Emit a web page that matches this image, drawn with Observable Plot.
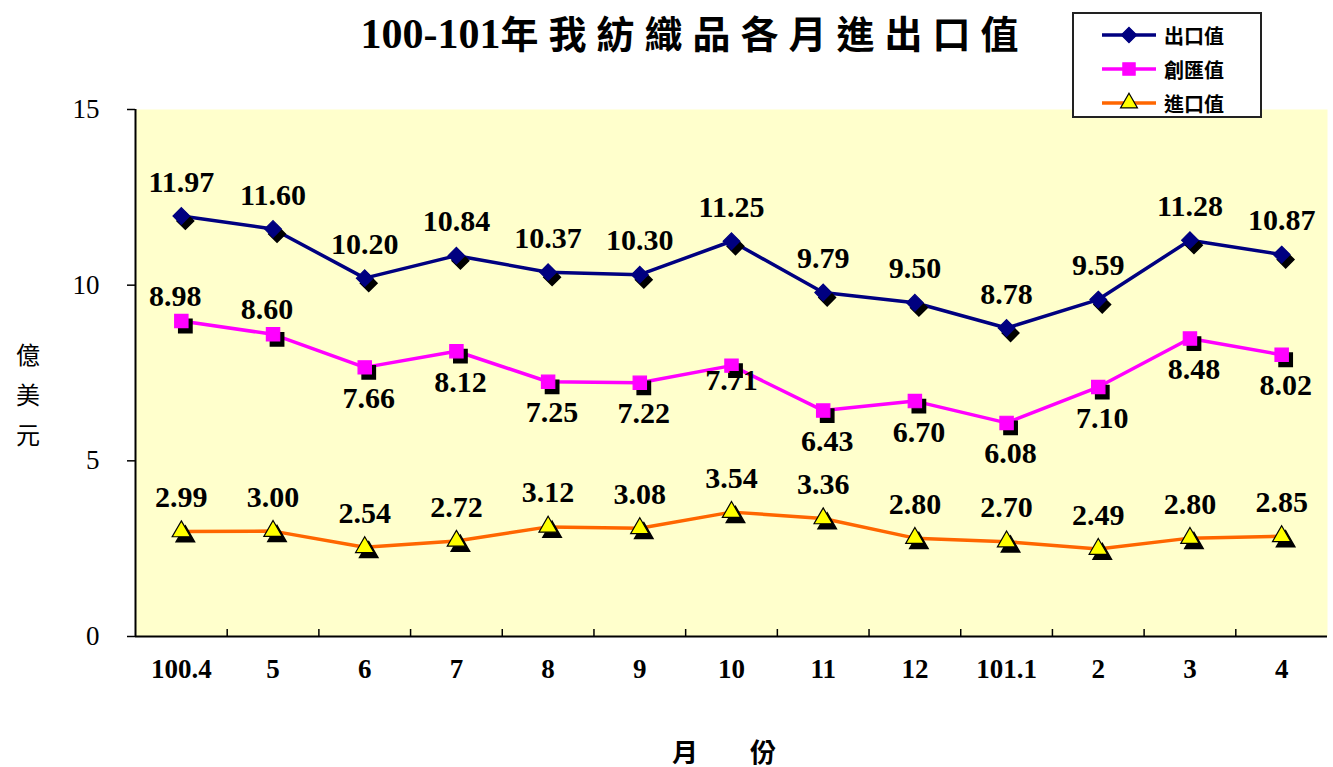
<!DOCTYPE html>
<html><head><meta charset="utf-8">
<script src="https://cdn.jsdelivr.net/npm/d3@7"></script>
<script src="https://cdn.jsdelivr.net/npm/@observablehq/plot@0.6"></script>
<style>
body{margin:0;background:#fff;width:1333px;height:767px;overflow:hidden;position:relative;font-family:'Liberation Serif','Noto Sans CJK TC',serif}
#chart{position:absolute;left:0;top:0}
#title{position:absolute;left:28px;top:4px;width:1333px;text-align:center;font-weight:bold;white-space:nowrap;color:#000}
#title .num{font-family:'Liberation Serif',serif;font-weight:bold;font-size:42px}
#title .cjk{font-family:'Noto Sans CJK TC',sans-serif;font-size:38px;letter-spacing:10px}
#ylab{position:absolute;left:14px;top:334px;width:28px;font-family:'Noto Sans CJK TC',sans-serif;font-size:24px;line-height:40px;text-align:center;color:#000}
#xlab{position:absolute;left:672px;top:732px;font-family:'Noto Sans CJK TC',sans-serif;font-size:26px;font-weight:bold;color:#000;white-space:pre}
#legend{position:absolute;left:1072px;top:12px;width:186px;height:102px;border:2px solid #222;background:#fff}
.lrow{position:absolute;left:26px;height:30px;display:flex;align-items:center}
.lrow span{font-family:'Noto Sans CJK TC',sans-serif;font-weight:bold;font-size:20px;margin-left:6px;color:#000}
</style></head><body>
<div id="chart"></div>
<div id="title"></div>
<div id="ylab"></div>
<div id="xlab"></div>
<div id="legend"></div>
<script>
// ---- data ----
const months = ["100.4","5","6","7","8","9","10","11","12","101.1","2","3","4"];
const exportValues = [11.97,11.60,10.20,10.84,10.37,10.30,11.25,9.79,9.50,8.78,9.59,11.28,10.87];
const remitValues  = [8.98,8.60,7.66,8.12,7.25,7.22,7.71,6.43,6.70,6.08,7.10,8.48,8.02];
const importValues = [2.99,3.00,2.54,2.72,3.12,3.08,3.54,3.36,2.80,2.70,2.49,2.80,2.85];
const seriesNames = ["出口值","創匯值","進口值"];
const yTicks = [0,5,10,15];
const titleNum = "100-101";
const titleCjk = "年我紡織品各月進出口值";
const yLabel = ["億","美","元"];
const xLabel = "月　　份";

// ---- styles ----
const serif = "'Liberation Serif', 'Times New Roman', serif";
const colors = ["#000080","#FF00FF","#FF6600"];
const symbols = ["diamond2","square","triangle"];
const radii = [7.5,7.5,6.8];
const fills = ["#000080","#FF00FF","#FFFF00"];
const strokes = ["#000080","#FF00FF","#000000"];

const allValues = [exportValues, remitValues, importValues];
const rows = [];
allValues.forEach((vals, s) => vals.forEach((v, i) => rows.push({i, month: months[i], value: v, series: seriesNames[s]})));
const bySeries = s => rows.filter(d => d.series === seriesNames[s]);
const bounds = d3.range(0.5, months.length - 1, 1);
const fmt = d => d.value.toFixed(2);

const marks = [
  Plot.frame({fill: "#FFFFCC", stroke: null}),
  Plot.ruleX(bounds, {x: d => d, y1: 0, y2: 0, insetTop: -7, stroke: "#000", strokeWidth: 1.5}),
  Plot.axisY({ticks: yTicks, tickSize: 8, tickPadding: 28, fontSize: 27, fontFamily: serif, stroke: "#000", strokeWidth: 1.5, tickFormat: d => d, label: null}),
  Plot.axisX({ticks: d3.range(months.length), tickSize: 0, tickPadding: 22, fontSize: 27, fontFamily: serif, fontWeight: "bold", tickFormat: i => months[i], label: null}),
  Plot.ruleX([-0.5], {stroke: "#000", strokeWidth: 2}),
  Plot.ruleY([0], {stroke: "#000", strokeWidth: 2}),
  Plot.line(rows, {x: "i", y: "value", z: "series", stroke: "series", strokeWidth: 3.5})
];
[0,1,2].forEach(s => {
  marks.push(Plot.dot(bySeries(s), {x: "i", y: "value", symbol: () => symbols[s], r: radii[s], fill: "#000", stroke: "#000", dx: 4, dy: 5}));
  marks.push(Plot.dot(bySeries(s), {x: "i", y: "value", symbol: () => symbols[s], r: radii[s], fill: fills[s], stroke: strokes[s], strokeWidth: 1.2}));
});
const lab = {x: "i", y: "value", text: fmt, fontSize: 30, fontFamily: serif, fontWeight: "bold", fill: "#000"};
marks.push(Plot.text(bySeries(0), {...lab, dy: -34}));
marks.push(Plot.text(bySeries(2), {...lab, dy: -34}));
marks.push(Plot.text(bySeries(1).filter(d => d.i < 2), {...lab, dy: -25, dx: -6}));
marks.push(Plot.text(bySeries(1).filter(d => d.i === 6), {...lab, dy: 15}));
marks.push(Plot.text(bySeries(1).filter(d => d.i >= 2 && d.i !== 6), {...lab, dy: 31, dx: 4}));

const chart = Plot.plot({
  width: 1333, height: 767,
  marginLeft: 135, marginRight: 6, marginTop: 109, marginBottom: 131,
  style: {fontFamily: serif, color: "#000", background: "transparent"},
  x: {type: "linear", domain: [-0.5, months.length - 0.5], axis: null},
  y: {domain: [0, 15], axis: null},
  color: {domain: seriesNames, range: colors},
  marks
});
document.getElementById("chart").append(chart);

document.getElementById("title").innerHTML = `<span class="num">${titleNum}</span><span class="cjk">${titleCjk}</span>`;
document.getElementById("ylab").innerHTML = yLabel.join("<br>");
document.getElementById("xlab").textContent = xLabel;

const legend = document.getElementById("legend");
seriesNames.forEach((name, s) => {
  const row = document.createElement("div");
  row.className = "lrow";
  row.style.top = (6 + s * 34) + "px";
  const sym = d3.symbol(d3["symbol" + {diamond2: "Diamond2", square: "Square", triangle: "Triangle"}[symbols[s]]], Math.PI * radii[s] * radii[s] * 0.85)();
  row.innerHTML = `<svg width="58" height="30"><line x1="2" x2="56" y1="15" y2="15" stroke="${colors[s]}" stroke-width="3.5"/>` +
    `<path d="${sym}" transform="translate(29,15)" fill="${fills[s]}" stroke="${strokes[s]}" stroke-width="1.2"/></svg><span>${name}</span>`;
  legend.append(row);
});
</script>
</body></html>
